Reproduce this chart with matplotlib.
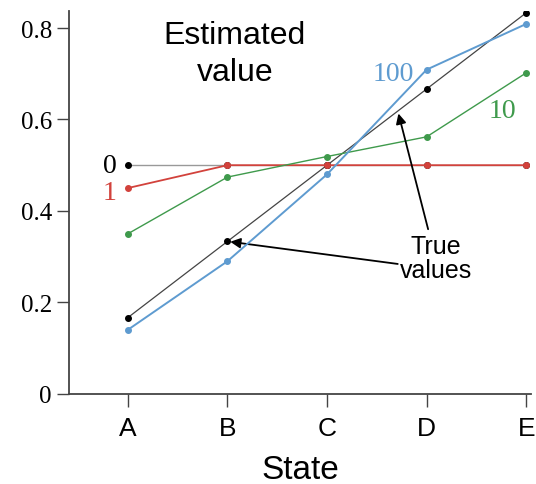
import numpy as np
import matplotlib.pyplot as plt

states = ['A', 'B', 'C', 'D', 'E']
true_values = [1/6, 2/6, 3/6, 4/6, 5/6]
ep0 = [0.5, 0.5, 0.5, 0.5, 0.5]
ep1 = [0.45, 0.5, 0.5, 0.5, 0.5]
ep10 = [0.35, 0.474, 0.519, 0.562, 0.702]
ep100 = [0.14, 0.29, 0.48, 0.709, 0.809]

red = '#d2423c'
green = '#3f9a4c'
blue = '#5e9bd0'

x = np.arange(len(states))

fig = plt.figure(figsize=(5.36, 4.85), dpi=100)
ax = fig.add_axes([0.129, 0.186, 0.862, 0.789])

ax.plot(x, ep0, color='#999999', lw=1.0, marker='o', ms=4, mfc='black', mec='black', zorder=2)
ax.plot(x, true_values, color='#444444', lw=0.9, marker='o', ms=4, mfc='black', mec='black', zorder=3)
ax.plot(x, ep1, color=red, lw=1.3, marker='o', ms=4, zorder=3)
ax.plot(x, ep10, color=green, lw=1.0, marker='o', ms=4, zorder=3)
ax.plot(x, ep100, color=blue, lw=1.4, marker='o', ms=4, zorder=4)

ax.set_xlim(-0.59, 4.05)
ax.set_ylim(0, 0.837)

for s in ['top', 'right']:
    ax.spines[s].set_visible(False)
for s in ['left', 'bottom']:
    ax.spines[s].set_color('#444444')
    ax.spines[s].set_linewidth(1.3)

ax.set_yticks([0, 0.2, 0.4, 0.6, 0.8])
ax.set_yticklabels(['0', '0.2', '0.4', '0.6', '0.8'], family='Liberation Serif', fontsize=18)
ax.set_xticks(x)
ax.set_xticklabels(states, family='Liberation Sans', fontsize=19)
ax.tick_params(axis='both', length=9, width=1, color='#444444')
ax.tick_params(axis='x', pad=7)
ax.set_xlabel('State', family='Liberation Sans', fontsize=24, labelpad=10)

ax.text(1.075, 0.745, 'Estimated\nvalue', family='Liberation Sans', fontsize=23,
        ha='center', va='center', linespacing=1.3)

serif = 'Liberation Serif'
ax.text(-0.11, 0.5, '0', family=serif, fontsize=20, ha='right', va='center', color='black')
ax.text(-0.11, 0.44, '1', family=serif, fontsize=20, ha='right', va='center', color=red)
ax.text(3.76, 0.619, '10', family=serif, fontsize=20, ha='center', va='center', color=green)
ax.text(2.67, 0.70, '100', family=serif, fontsize=20, ha='center', va='center', color=blue)

ax.text(3.095, 0.297, 'True\nvalues', family='Liberation Sans', fontsize=18,
        ha='center', va='center', linespacing=1.05)
arrow = dict(arrowstyle='-|>', color='black', lw=1.3, mutation_scale=15, shrinkA=0, shrinkB=2)
ax.annotate('', xy=(1.0, 1/3), xytext=(2.71, 0.284), arrowprops=arrow)
ax.annotate('', xy=(2.71, 0.619), xytext=(3.015, 0.36), arrowprops=arrow)

fig.savefig('out.png', dpi=100)
